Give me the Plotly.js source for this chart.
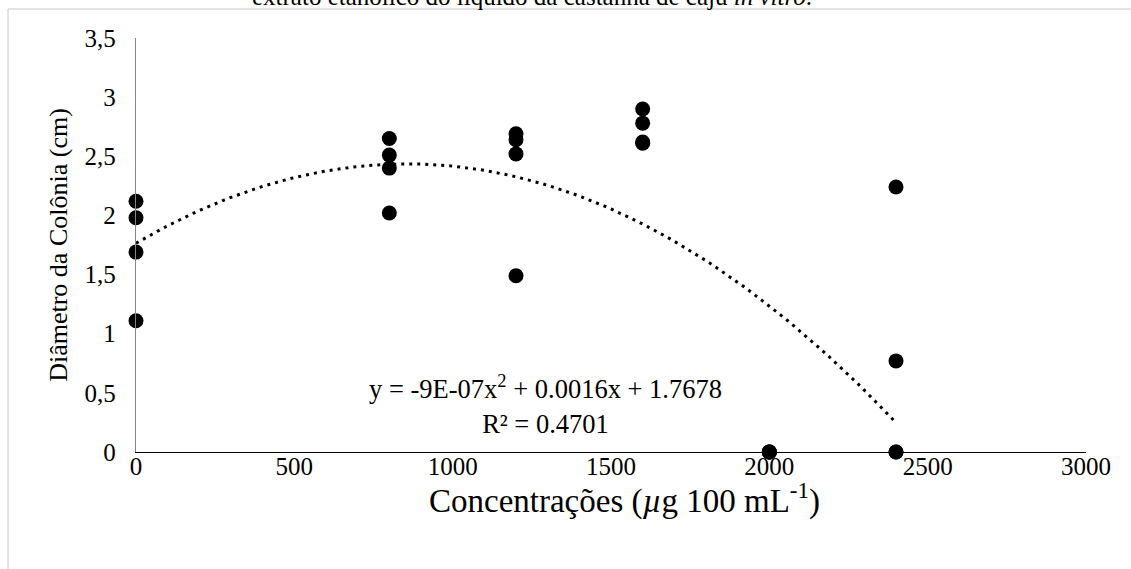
<!DOCTYPE html>
<html>
<head>
<meta charset="utf-8">
<script src="https://cdn.plot.ly/plotly-3.0.1.min.js"></script>
<style>html,body{margin:0;padding:0;background:#fff;}#chart{width:1131px;height:569px;}</style>
</head>
<body>
<div id="chart"></div>
<script>
// Data
const concentrations = [0, 0, 0, 0, 800, 800, 800, 800, 1200, 1200, 1200, 1200, 1600, 1600, 1600, 1600, 2000, 2000, 2000, 2000, 2400, 2400, 2400, 2400];
const diameters = [2.12, 1.98, 1.69, 1.11, 2.65, 2.51, 2.40, 2.02, 2.69, 2.64, 2.52, 1.49, 2.90, 2.78, 2.62, 2.61, 0, 0, 0, 0, 2.24, 0.77, 0, 0];
const yTickVals = [0, 0.5, 1, 1.5, 2, 2.5, 3, 3.5];
const yTickText = ['0', '0,5', '1', '1,5', '2', '2,5', '3', '3,5'];
const xTickVals = [0, 500, 1000, 1500, 2000, 2500, 3000];
const xTickText = ['0', '500', '1000', '1500', '2000', '2500', '3000'];
const xTitleText = 'Concentrações (<i>µ</i>g 100 mL<sup>-1</sup>)';
const yTitleText = 'Diâmetro da Colônia (cm)';
const equationText = 'y = -9E-07x<sup>2</sup> + 0.0016x + 1.7678<br>R² = 0.4701';
const titleText = 'extrato etanólico do líquido da castanha de caju <i>in vitro</i>.';

// Polynomial (order 2) least-squares trendline from the data, as the spreadsheet does
function polyfit2(xs, ys) {
  let s = [0,0,0,0,0], t = [0,0,0];
  for (let i = 0; i < xs.length; i++) {
    const x = xs[i] / 1000, y = ys[i];
    let p = 1;
    for (let k = 0; k < 5; k++) { s[k] += p; if (k < 3) t[k] += p * y; p *= x; }
  }
  const A = [[s[0], s[1], s[2], t[0]], [s[1], s[2], s[3], t[1]], [s[2], s[3], s[4], t[2]]];
  for (let i = 0; i < 3; i++) {
    for (let j = i + 1; j < 3; j++) {
      const f = A[j][i] / A[i][i];
      for (let k = i; k < 4; k++) A[j][k] -= f * A[i][k];
    }
  }
  const c = [0,0,0];
  for (let i = 2; i >= 0; i--) {
    let v = A[i][3];
    for (let k = i + 1; k < 3; k++) v -= A[i][k] * c[k];
    c[i] = v / A[i][i];
  }
  return c; // in x/1000 units
}
const coef = polyfit2(concentrations, diameters);
const xMin = Math.min(...concentrations), xMax = Math.max(...concentrations);
const trendX = [], trendY = [];
for (let x = xMin; x <= xMax; x += 20) {
  const u = x / 1000;
  trendX.push(x);
  trendY.push(coef[0] + coef[1] * u + coef[2] * u * u);
}

const serif = 'Liberation Serif, Times New Roman, serif';

const traces = [
  {
    x: trendX, y: trendY, type: 'scatter', mode: 'lines',
    line: {color: '#000', width: 3, dash: '3px,5px'},
    hoverinfo: 'skip', showlegend: false
  },
  {
    x: concentrations, y: diameters, type: 'scatter', mode: 'markers',
    marker: {color: '#000', size: 15},
    cliponaxis: false, showlegend: false
  }
];

const layout = {
  width: 1131, height: 569,
  margin: {l: 136, r: 45, t: 38, b: 117},
  paper_bgcolor: '#fff', plot_bgcolor: '#fff',
  font: {family: serif, color: '#000', size: 25},
  showlegend: false,
  xaxis: {
    range: [0, 3000], tickvals: xTickVals, ticktext: xTickText,
    showgrid: false, zeroline: false, showline: true, linecolor: '#000', linewidth: 1.3,
    ticks: '', ticklabelstandoff: -8,
    tickfont: {family: serif, size: 25, color: '#000'}
  },
  yaxis: {
    range: [0, 3.5], tickvals: yTickVals, ticktext: yTickText,
    showgrid: false, zeroline: false, showline: true, linecolor: '#868686', linewidth: 1.3,
    ticks: '', ticklabelstandoff: 14,
    tickfont: {family: serif, size: 25, color: '#000'},
    title: {text: yTitleText, font: {family: serif, size: 26, color: '#000'}, standoff: 9}
  },
  annotations: [
    {
      xref: 'x', yref: 'y', x: 1292, y: 0.40, text: equationText, showarrow: false,
      font: {family: serif, size: 26.5, color: '#000'}, align: 'center', xanchor: 'center', yanchor: 'middle'
    },
    {
      xref: 'paper', yref: 'paper', x: (624 - 136) / 950, y: -0.112, text: xTitleText, showarrow: false,
      font: {family: serif, size: 33, color: '#000'}, xanchor: 'center', yanchor: 'middle'
    },
    {
      xref: 'paper', yref: 'paper', x: (532 - 136) / 950, y: 1.1, text: titleText, showarrow: false,
      font: {family: serif, size: 25, color: '#000'}, xanchor: 'center', yanchor: 'middle'
    }
  ],
  shapes: [
    {type: 'line', xref: 'paper', yref: 'paper', x0: -0.1347, x1: 1.2, y0: 1.07, y1: 1.07, line: {color: '#d9d9d9', width: 1.5}},
    {type: 'line', xref: 'paper', yref: 'paper', x0: -0.1347, x1: -0.1347, y0: 1.07, y1: -0.4, line: {color: '#d9d9d9', width: 1.5}}
  ]
};

Plotly.newPlot('chart', traces, layout, {displayModeBar: false, staticPlot: true});
</script>
</body>
</html>
